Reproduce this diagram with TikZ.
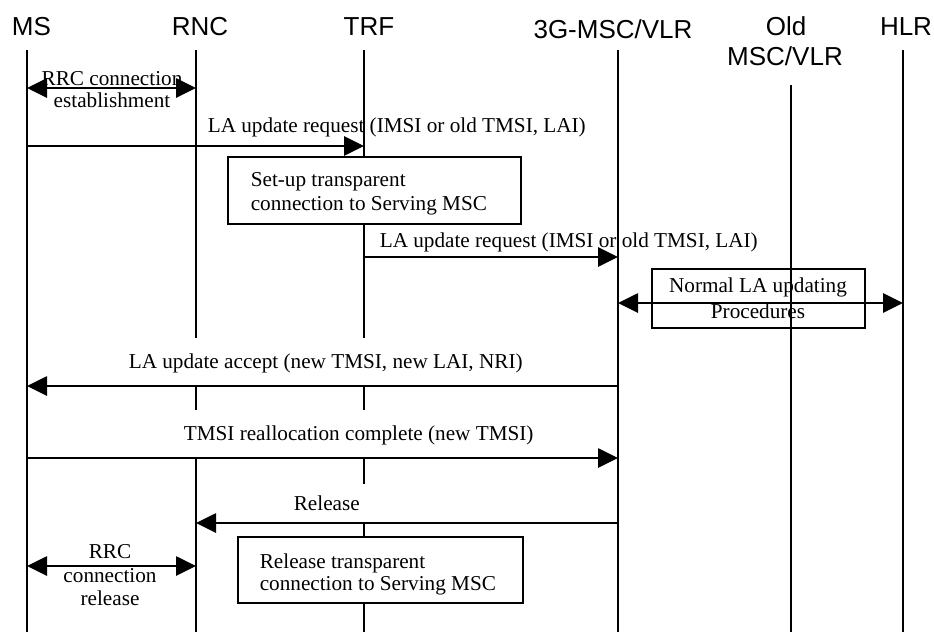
\documentclass[tikz,border=0pt]{standalone}
\usepackage{fontspec}
\setmainfont{Liberation Serif}
\newfontfamily\headfont{Liberation Sans}
\usetikzlibrary{arrows.meta}
\begin{document}
\begin{tikzpicture}[x=0.75pt,y=-0.75pt,line width=1.2pt,
  life/.style={line width=1.2pt},
  tipA/.tip={Triangle[length=15pt,width=14.5pt]},
  msg/.style={-tipA},
  dmsg/.style={tipA-tipA},
  head/.style={font=\headfont\fontsize{19.5}{22}\selectfont,inner sep=0pt,anchor=base},
  lbl/.style={font=\fontsize{15.9}{19}\selectfont,inner sep=0pt,anchor=base west},
  ctr/.style={font=\fontsize{15.9}{19}\selectfont,inner sep=0pt,anchor=base},
  procbox/.style={draw,fill=white,line width=1.2pt,inner sep=0pt},
  openbox/.style={draw,line width=1.2pt,inner sep=0pt},
  mask/.style={fill=white,draw=none}]
\useasboundingbox[fill=white] (0,0) rectangle (934,632);

% headers
\node[head] (hMS)  at (31.5,35) {MS};
\node[head] (hRNC) at (200,35) {RNC};
\node[head] (hTRF) at (369,35) {TRF};
\node[head] (hMSC) at (613,38) {3G-MSC/VLR};
\node[head] (hOld1) at (786,35) {Old};
\node[head] (hOld2) at (785,65) {MSC/VLR};
\node[head] (hHLR) at (906,35) {HLR};

% lifelines
\coordinate (msT) at (27,50);    \coordinate (msB) at (27,632);
\coordinate (rncT) at (196,50);  \coordinate (rncB) at (196,632);
\coordinate (trfT) at (364,50);  \coordinate (trfB) at (364,632);
\coordinate (mscT) at (618,50);  \coordinate (mscB) at (618,632);
\coordinate (oldT) at (791,85);  \coordinate (oldB) at (791,632);
\coordinate (hlrT) at (903,50);  \coordinate (hlrB) at (903,632);
\draw[life] (msT) -- (msB);
\draw[life] (rncT) -- (rncB);
\draw[life] (trfT) -- (trfB);
\draw[life] (mscT) -- (mscB);
\draw[life] (oldT) -- (oldB);
\draw[life] (hlrT) -- (hlrB);

% label backgrounds hiding lifelines
\fill[mask] (60,338) rectangle (600,385);
\fill[mask] (60,410) rectangle (600,457);
\fill[mask] (250,484) rectangle (600,522);

% boxes
\node[procbox,minimum width=219.75pt,minimum height=50.25pt] (setup) at (374.5,190.5) {};
\node[procbox,minimum width=213.75pt,minimum height=49.5pt] (relbox) at (380.5,570) {};
\node[openbox,minimum width=159.75pt,minimum height=44.25pt] (normal) at (758.5,298.5) {};

% message end points
\coordinate (m1a) at (27,88);    \coordinate (m1b) at (196,88);
\coordinate (m2a) at (27,146);   \coordinate (m2b) at (364,146);
\coordinate (m3a) at (364,257);  \coordinate (m3b) at (618,257);
\coordinate (m4a) at (618,303);  \coordinate (m4b) at (903,303);
\coordinate (m5a) at (618,386);  \coordinate (m5b) at (27,386);
\coordinate (m6a) at (27,458);   \coordinate (m6b) at (618,458);
\coordinate (m7a) at (618,523);  \coordinate (m7b) at (196,523);
\coordinate (m8a) at (27,566);   \coordinate (m8b) at (196,566);

\draw[dmsg] (m1a) -- (m1b);
\draw[msg]  (m2a) -- (m2b);
\draw[msg]  (m3a) -- (m3b);
\draw[dmsg] (m4a) -- (m4b);
\draw[msg]  (m5a) -- (m5b);
\draw[msg]  (m6a) -- (m6b);
\draw[msg]  (m7a) -- (m7b);
\draw[dmsg] (m8a) -- (m8b);

% texts
\node[ctr] (t1a) at (112,85) {RRC connection};
\node[ctr] (t1b) at (112,107) {establishment};
\node[lbl] (l1) at (207,132) {LA update request (IMSI or old TMSI, LAI)};
\node[lbl] (s1) at (250,186) {Set-up transparent};
\node[lbl] (s2) at (250,210) {connection to Serving MSC};
\node[lbl] (l2) at (379,247) {LA update request (IMSI or old TMSI, LAI)};
\node[ctr] (n1) at (758,292) {Normal LA updating};
\node[ctr] (n2) at (758,318) {Procedures};
\node[lbl] (l3) at (128,368) {LA update accept (new TMSI, new LAI, NRI)};
\node[lbl] (l4) at (183,440) {TMSI reallocation complete (new TMSI)};
\node[lbl] (l5) at (293,510) {Release};
\node[ctr] (r1) at (110,558) {RRC};
\node[ctr] (r2) at (110,582) {connection};
\node[ctr] (r3) at (110,605) {release};
\node[lbl] (b1) at (259,568) {Release transparent};
\node[lbl] (b2) at (259,590) {connection to Serving MSC};
\end{tikzpicture}
\end{document}
